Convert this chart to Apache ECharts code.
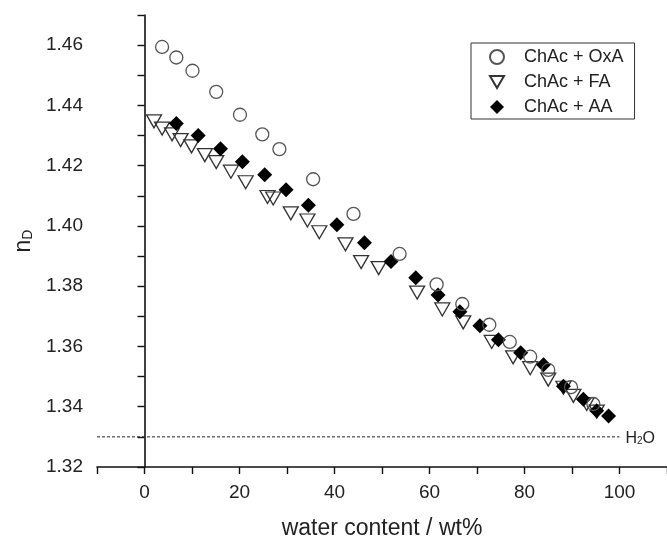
<!DOCTYPE html>
<html>
<head>
<meta charset="utf-8">
<script src="https://cdn.jsdelivr.net/npm/echarts@6/dist/echarts.min.js"></script>
<style>
  html, body { margin: 0; padding: 0; background: #fff; }
  #chart { width: 667px; height: 545px; }
</style>
</head>
<body>
<div id="chart"></div>
<script>
// Refractive index n_D versus water content for three choline acetate mixtures
const oxaWater = [3.7, 6.7, 10.1, 15.1, 20.1, 24.8, 28.4, 35.5, 44.0, 53.7, 61.5, 66.9, 72.6, 76.9, 81.2, 85.0, 89.8, 94.5];
const oxaN = [1.4594, 1.4559, 1.4515, 1.4445, 1.4369, 1.4304, 1.4255, 1.4155, 1.4040, 1.3907, 1.3806, 1.3741, 1.3672, 1.3615, 1.3566, 1.3522, 1.3465, 1.3409];

const faWater = [2.0, 3.7, 5.8, 7.6, 9.9, 12.7, 15.1, 18.2, 21.3, 25.9, 27.1, 30.8, 34.3, 36.8, 42.3, 45.6, 49.3, 57.4, 62.7, 67.1, 73.1, 77.6, 81.2, 85.0, 88.2, 90.3, 93.1, 95.2];
const faN = [1.4347, 1.4323, 1.4304, 1.4285, 1.4264, 1.4235, 1.4212, 1.4180, 1.4145, 1.4096, 1.4091, 1.4042, 1.4018, 1.3979, 1.3939, 1.3880, 1.3860, 1.3779, 1.3723, 1.3680, 1.3615, 1.3564, 1.3528, 1.3490, 1.3463, 1.3436, 1.3409, 1.3384];

const aaWater = [6.7, 11.3, 16.0, 20.6, 25.3, 29.8, 34.5, 40.5, 46.3, 51.9, 57.1, 61.8, 66.4, 70.6, 74.5, 79.2, 84.0, 88.2, 92.4, 95.2, 97.7];
const aaN = [1.4340, 1.4300, 1.4256, 1.4213, 1.4170, 1.4120, 1.4069, 1.4004, 1.3944, 1.3882, 1.3828, 1.3771, 1.3715, 1.3669, 1.3622, 1.3579, 1.3539, 1.3468, 1.3425, 1.3387, 1.3369];

// Pure water reference level
const waterLineX = [-10, 100];
const waterLineN = [1.33, 1.33];

const seriesNames = ['ChAc + OxA', 'ChAc + FA', 'ChAc + AA'];
const xTickLabels = [0, 20, 40, 60, 80, 100];
const yTickLabels = [1.32, 1.34, 1.36, 1.38, 1.40, 1.42, 1.44, 1.46];

const pairs = (xs, ys) => xs.map((x, i) => [x, ys[i]]);

const FONT = '"Liberation Sans", Arial, sans-serif';
const TEXT = '#222';
const DOWN_TRIANGLE = 'path://M0,0 L14,0 L7,12 Z';
const DIAMOND = 'path://M7,0 L14,7 L7,14 L0,7 Z';

const chart = echarts.init(document.getElementById('chart'), null, { renderer: 'canvas' });

chart.setOption({
  animation: false,
  backgroundColor: '#fff',
  grid: { left: 97, right: 0, top: 15, bottom: 69, containLabel: false },
  legend: {
    data: [
      { name: seriesNames[0], icon: 'circle' },
      { name: seriesNames[1], icon: DOWN_TRIANGLE },
      { name: seriesNames[2], icon: DIAMOND }
    ],
    orient: 'vertical',
    left: 471,
    top: 43,
    padding: [4, 11, 2, 18],
    itemGap: 5,
    itemWidth: 14,
    itemHeight: 14,
    symbolKeepAspect: true,
    borderColor: '#333',
    borderWidth: 1,
    borderRadius: 0,
    selectedMode: false,
    textStyle: { fontFamily: FONT, fontSize: 18, color: TEXT, lineHeight: 20, padding: [0, 0, 0, 15] }
  },
  xAxis: {
    type: 'value',
    min: -10,
    max: 110,
    interval: 10,
    name: 'water content / wt%',
    nameLocation: 'middle',
    nameGap: 50,
    nameTextStyle: { fontFamily: FONT, fontSize: 23, color: TEXT },
    axisLine: { show: true, lineStyle: { color: '#111', width: 1.6 } },
    axisTick: { show: true, length: 7, lineStyle: { color: '#111', width: 1.4 } },
    axisLabel: {
      customValues: xTickLabels,
      margin: 16,
      fontFamily: FONT, fontSize: 19, color: TEXT
    },
    splitLine: { show: false }
  },
  yAxis: {
    type: 'value',
    min: 1.32,
    max: 1.47,
    interval: 0.01,
    name: '{n|n}{d|D}',
    nameLocation: 'middle',
    nameGap: 62,
    nameRotate: 90,
    nameTextStyle: {
      rich: {
        n: { fontFamily: FONT, fontSize: 23, color: TEXT, verticalAlign: 'bottom', lineHeight: 26 },
        d: { fontFamily: FONT, fontSize: 14, color: TEXT, verticalAlign: 'bottom', lineHeight: 20 }
      }
    },
    axisLine: { show: true, lineStyle: { color: '#111', width: 1.6 } },
    axisTick: { show: true, length: 7, lineStyle: { color: '#111', width: 1.4 } },
    axisLabel: {
      customValues: yTickLabels,
      formatter: v => v.toFixed(2),
      margin: 14,
      fontFamily: FONT, fontSize: 19, color: TEXT
    },
    splitLine: { show: false }
  },
  series: [
    {
      name: 'H2O',
      type: 'line',
      data: pairs(waterLineX, waterLineN),
      symbol: 'none',
      lineStyle: { color: '#222', width: 1, type: [3, 2] },
      endLabel: {
        show: true,
        distance: 6,
        formatter: () => '{h|H}{s|2}{h|O}',
        rich: {
          h: { fontFamily: FONT, fontSize: 16, color: TEXT, verticalAlign: 'bottom', lineHeight: 19 },
          s: { fontFamily: FONT, fontSize: 10, color: TEXT, verticalAlign: 'bottom', lineHeight: 13 }
        }
      },
      silent: true,
      z: 1
    },
    {
      name: seriesNames[1],
      type: 'scatter',
      data: pairs(faWater, faN),
      symbol: 'triangle',
      symbolRotate: 180,
      symbolSize: [15, 13],
      itemStyle: { color: 'rgba(255,255,255,0)', borderColor: '#333', borderWidth: 1.3, opacity: 1 },
      z: 2
    },
    {
      name: seriesNames[2],
      type: 'scatter',
      data: pairs(aaWater, aaN),
      symbol: 'diamond',
      symbolSize: [15, 15],
      itemStyle: { color: '#000', borderColor: '#000', borderWidth: 0, opacity: 1 },
      z: 3
    },
    {
      name: seriesNames[0],
      type: 'scatter',
      data: pairs(oxaWater, oxaN),
      symbol: 'circle',
      symbolSize: 13,
      itemStyle: { color: 'rgba(255,255,255,0)', borderColor: '#555', borderWidth: 1.3, opacity: 1 },
      z: 4
    }
  ]
});
</script>
</body>
</html>
